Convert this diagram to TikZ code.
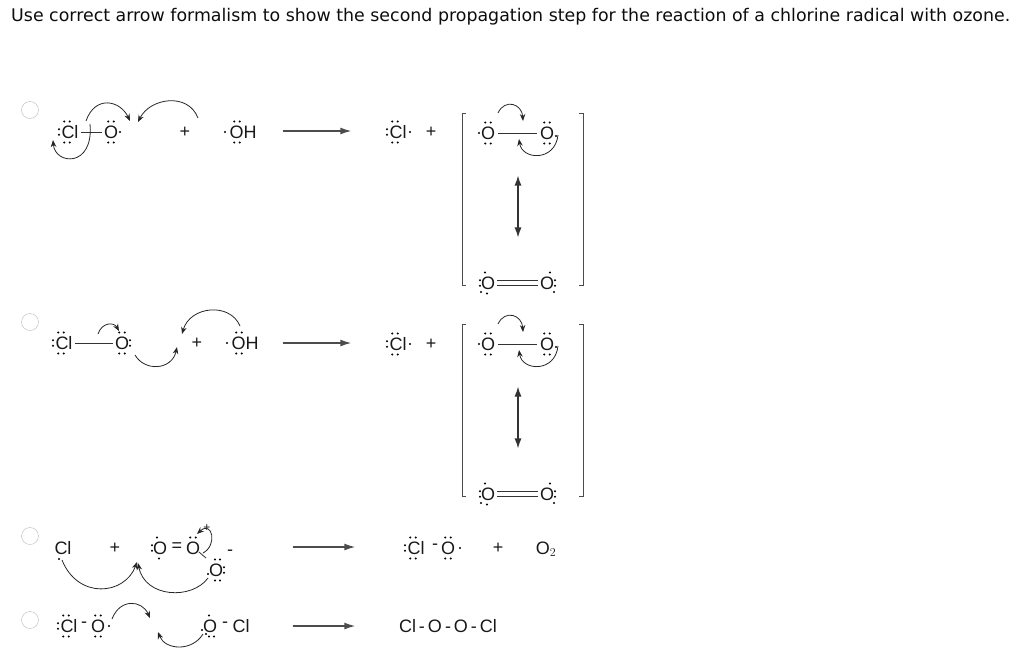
\documentclass[tikz,border=0pt]{standalone}
\usepackage{fontspec}
\setmainfont{Liberation Sans}
\newfontfamily\titlefont{DejaVu Sans}
\usetikzlibrary{arrows.meta,calc}
\newcommand\lpN[1]{\fill[shift={(#1)}] (-2.8,-10.5) circle(1.15) (2.8,-10.5) circle(1.15);}
\newcommand\lpS[1]{\fill[shift={(#1)}] (-2.8,10.5) circle(1.15) (2.8,10.5) circle(1.15);}
\newcommand\lpW[1]{\fill[shift={(#1)}] (-8,-2.8) circle(1.15) (-8,2.8) circle(1.15);}
\newcommand\lpE[1]{\fill[shift={(#1)}] (8,-2.8) circle(1.15) (8,2.8) circle(1.15);}
\newcommand\rdW[1]{\fill[shift={(#1)}] (-9,0) circle(1.15);}
\newcommand\rdE[1]{\fill[shift={(#1)}] (9,0) circle(1.15);}
\begin{document}
\begin{tikzpicture}[x=1pt,y=-1pt,
  atm/.style={inner sep=0,font=\fontsize{18}{18}\selectfont,text=gray!20!black},
  rxn/.style={-{Latex[length=11pt,width=7pt]},gray!60!black,line width=1.4pt},
  cv/.style={-{Stealth[length=7pt,width=5.5pt]},gray!30!black,line width=0.8pt},
  bd/.style={gray!40!black,line width=0.8pt},
  radio/.style={circle,draw=gray!55,minimum size=17pt,inner sep=0},
  brk/.style={gray!60!black,line width=1pt}]
\useasboundingbox (0,0) rectangle (1024,657);
\node[anchor=west,font=\titlefont\fontsize{17.4}{18}\selectfont,inner sep=0,text=gray!10!black] (title) at (11,17) {Use correct arrow formalism to show the second propagation step for the reaction of a chlorine radical with ozone.};
\node[radio] (r1) at (30,110) {};
\node[radio] (r2) at (30,322) {};
\node[radio] (r3) at (30,536) {};
\node[radio] (r4) at (30,620) {};
% ---------- row 1 ----------
\node[atm] (a1) at (70,132) {Cl}; \lpN{$(a1.center)+(-3,0)$}\lpS{$(a1.center)+(-3,0)$}\lpW{$(a1.center)+(-3,0)$}
\node[atm] (b1) at (111,132) {O}; \lpN{b1.center}\lpS{b1.center}\rdE{b1.center}
\draw[bd] ($(a1.east)+(2,0)$) -- ($(b1.west)+(-2,0)$);
\node[atm] (p1) at (185,132) {+};
\node[atm] (c1) at (243,132) {OH}; \lpN{$(c1.center)+(-6,0)$}\lpS{$(c1.center)+(-6,0)$}\rdW{$(c1.center)+(-9,0)$}
\draw[cv] (90,124) .. controls (94,168) and (55,165) .. (53,140);
\draw[cv] (86,121) .. controls (95,95) and (120,100) .. (130,121);
\draw[cv] (198,118) .. controls (188,92) and (150,98) .. (138,122);
\node[atm] (e1) at (282,131) {}; \node[atm] (f1) at (352,131) {};
\draw[rxn] (e1) -- (f1);
\node[atm] (g1) at (398,132) {Cl}; \lpN{$(g1.center)+(-3,0)$}\lpS{$(g1.center)+(-3,0)$}\lpW{$(g1.center)+(-3,0)$}\rdE{$(g1.center)+(3,0)$}
\node[atm] (q1) at (431,132) {+};
\node[atm] (h1) at (488,133) {O}; \lpN{h1.center}\lpS{h1.center}\rdW{h1.center}
\node[atm] (i1) at (547,133) {O}; \lpN{i1.center}\lpS{i1.center}\rdE{$(i1.center)+(0,3)$}
\draw[bd] ($(h1.east)+(3,0)$) -- ($(i1.west)+(-3,0)$);
\draw[cv] (498,113) .. controls (505,98) and (522,104) .. (523,121);
\draw[cv] (558,135) .. controls (555,162) and (522,160) .. (519,139);
\node (u1) at (518,172) {}; \node (v1) at (518,241) {};
\draw[{Latex[length=10pt,width=7pt]}-{Latex[length=10pt,width=7pt]},gray!40!black,line width=1.3pt] (u1) -- (v1);
\node[atm] (j1) at (488,283) {O}; \lpW{j1.center}\fill[shift={(j1.center)}] (-3,-10.5) circle(1.15) (-7,9) circle(1.15) (-1,10.5) circle(1.15);
\node[atm] (k1) at (547,283) {O}; \lpE{k1.center}\fill[shift={(k1.center)}] (3,-10.5) circle(1.15) (7,9) circle(1.15);
\draw[bd] ($(j1.east)+(2,-2.2)$) -- ($(k1.west)+(-2,-2.2)$) ($(j1.east)+(2,2.2)$) -- ($(k1.west)+(-2,2.2)$);
\draw[brk] (466,113) -- (462,113) -- (462,285) -- (466,285);
\draw[brk] (579,113) -- (583,113) -- (583,285) -- (579,285);
% ---------- row 2 ----------
\node[atm] (a2) at (64,343) {Cl}; \lpN{$(a2.center)+(-3,0)$}\lpS{$(a2.center)+(-3,0)$}\lpW{$(a2.center)+(-3,0)$}
\node[atm] (b2) at (122,343) {O}; \lpN{b2.center}\lpS{b2.center}\lpE{b2.center}
\draw[bd] ($(a2.east)+(2,0)$) -- ($(b2.west)+(-2,0)$);
\draw[cv] (98,334) .. controls (102,322) and (114,322) .. (119,331);
\draw[cv] (135,355) .. controls (145,372) and (172,370) .. (177,347);
\draw[cv] (240,326) .. controls (230,302) and (190,306) .. (182,334);
\node[atm] (p2) at (197,343) {+};
\node[atm] (c2) at (245,343) {OH}; \lpN{$(c2.center)+(-6,0)$}\lpS{$(c2.center)+(-6,0)$}\rdW{$(c2.center)+(-9,0)$}
\node[atm] (e2) at (282,343) {}; \node[atm] (f2) at (352,343) {};
\draw[rxn] (e2) -- (f2);
\node[atm] (g2) at (398,344) {Cl}; \lpN{$(g2.center)+(-3,0)$}\lpS{$(g2.center)+(-3,0)$}\lpW{$(g2.center)+(-3,0)$}\rdE{$(g2.center)+(3,0)$}
\node[atm] (q2) at (431,344) {+};
\node[atm] (h2) at (488,344) {O}; \lpN{h2.center}\lpS{h2.center}\rdW{h2.center}
\node[atm] (i2) at (547,344) {O}; \lpN{i2.center}\lpS{i2.center}\rdE{$(i2.center)+(0,3)$}
\draw[bd] ($(h2.east)+(3,0)$) -- ($(i2.west)+(-3,0)$);
\draw[cv] (498,324) .. controls (505,309) and (522,315) .. (523,332);
\draw[cv] (558,346) .. controls (555,373) and (522,371) .. (519,350);
\node (u2) at (518,383) {}; \node (v2) at (518,452) {};
\draw[{Latex[length=10pt,width=7pt]}-{Latex[length=10pt,width=7pt]},gray!40!black,line width=1.3pt] (u2) -- (v2);
\node[atm] (j2) at (488,494) {O}; \lpW{j2.center}\fill[shift={(j2.center)}] (-3,-10.5) circle(1.15) (-7,9) circle(1.15) (-1,10.5) circle(1.15);
\node[atm] (k2) at (547,494) {O}; \lpE{k2.center}\fill[shift={(k2.center)}] (3,-10.5) circle(1.15) (7,9) circle(1.15);
\draw[bd] ($(j2.east)+(2,-2.2)$) -- ($(k2.west)+(-2,-2.2)$) ($(j2.east)+(2,2.2)$) -- ($(k2.west)+(-2,2.2)$);
\draw[brk] (466,324) -- (462,324) -- (462,496) -- (466,496);
\draw[brk] (579,324) -- (583,324) -- (583,496) -- (579,496);
% ---------- row 3 ----------
\node[atm] (a3) at (63,548) {Cl}; \fill (59,559) circle(1.15);
\node[atm] (p3) at (115,548) {+};
\node[atm] (b3) at (160,548) {O}; \lpW{b3.center}\fill[shift={(b3.center)}] (-3,-10.5) circle(1.15) (-1,10.5) circle(1.15);
\node[atm] (eq3) at (177,547) {=};
\node[atm] (c3) at (193,548) {O}; \lpN{c3.center}
\node[atm,font=\fontsize{12}{12}\selectfont] (pl3) at (207,528) {+};
\node[atm] (d3) at (216,570) {O}; \lpE{d3.center}\fill[shift={(d3.center)}] (-1,-10.5) circle(1.15) (4,-10.5) circle(1.15) (-8,4) circle(1.15) (-1,10.5) circle(1.15) (4,10.5) circle(1.15);
\node[atm] (mi3) at (230,553) {-};
\draw[bd] (199,552) -- (206,558);
\draw[cv] (203,553) .. controls (218,545) and (212,520) .. (197,534);
\draw[cv] (62,560) .. controls (78,600) and (125,595) .. (137,562);
\draw[cv] (208,578) .. controls (192,600) and (145,598) .. (138,563);
\node[atm] (e3) at (292,547) {}; \node[atm] (f3) at (356,547) {};
\draw[rxn] (e3) -- (f3);
\node[atm] (g3) at (416,548) {Cl}; \lpN{$(g3.center)+(-3,0)$}\lpS{$(g3.center)+(-3,0)$}\lpW{$(g3.center)+(-3,0)$}
\node[atm] (m3) at (435,547) {-};
\node[atm] (h3) at (448,548) {O}; \lpN{h3.center}\lpS{h3.center}\rdE{$(h3.center)+(3,0)$}
\node[atm] (q3) at (498,548) {+};
\node[atm] (o3) at (546,549) {O$_2$};
% ---------- row 4 ----------
\node[atm] (a4) at (69,626) {Cl}; \lpN{$(a4.center)+(-3,0)$}\lpS{$(a4.center)+(-3,0)$}\lpW{$(a4.center)+(-3,0)$}
\node[atm] (m4) at (84,625) {-};
\node[atm] (b4) at (98,626) {O}; \lpN{b4.center}\lpS{b4.center}\rdE{$(b4.center)+(2,0)$}
\draw[cv] (112,619) .. controls (120,598) and (142,600) .. (150,618);
\draw[cv] (203,634) .. controls (192,652) and (165,650) .. (158,632);
\node[atm] (c4) at (210,626) {O}; \fill[shift={(c4.center)}] (-8,4) circle(1.15) (-4,8) circle(1.15) (-1,-10.5) circle(1.15) (-1,10.5) circle(1.15) (4,10.5) circle(1.15);
\node[atm] (m42) at (225,625) {-};
\node[atm] (d4) at (241,626) {Cl};
\node[atm] (e4) at (292,626) {}; \node[atm] (f4) at (356,626) {};
\draw[rxn] (e4) -- (f4);
\node[atm] (g4) at (448,626) {Cl\,-\,O\,-\,O\,-\,Cl};
\end{tikzpicture}
\end{document}
